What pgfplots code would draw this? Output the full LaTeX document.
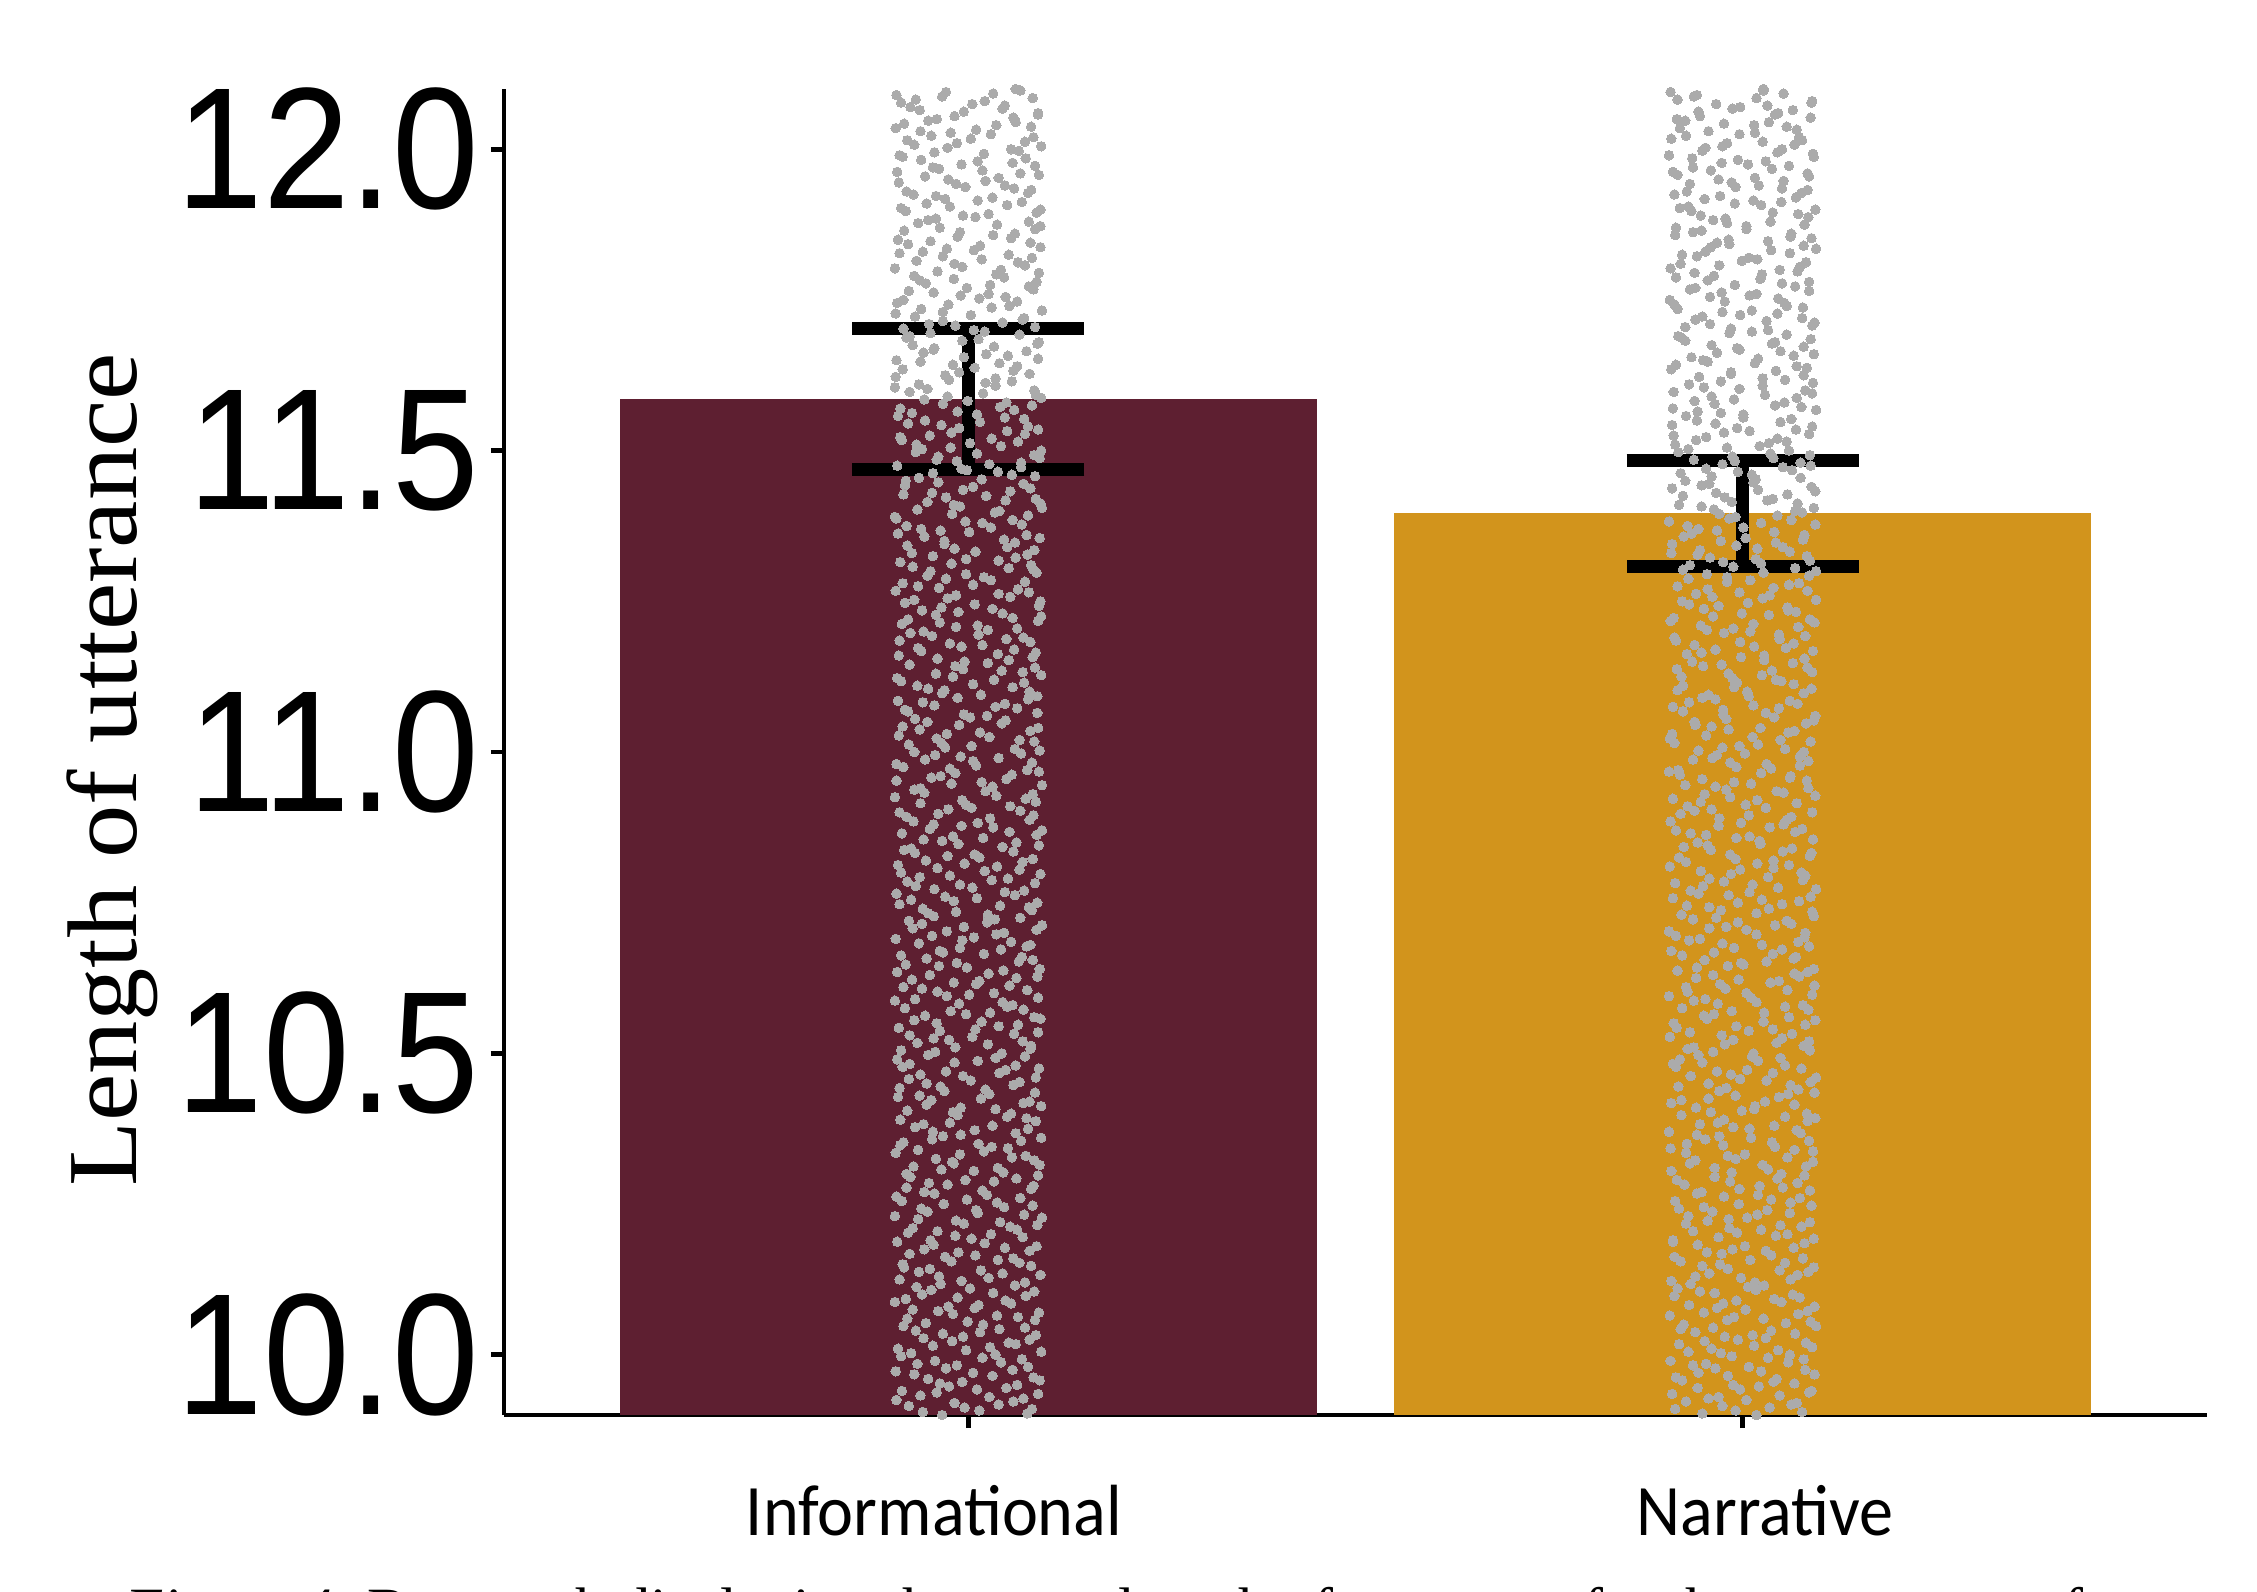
\documentclass[border=0pt]{standalone}
\usepackage{pgfplots}
\usepackage{pgfplotstable}
\pgfplotsset{compat=1.18}
\usepackage{fontspec}
\setmainfont{Liberation Serif}
\newfontfamily\tickfont{Liberation Sans}
\newfontfamily\calfont{Carlito}
\definecolor{infocol}{RGB}{94,31,49}
\definecolor{narrcol}{RGB}{210,148,28}
\definecolor{dotgray}{RGB}{171,171,171}

\pgfplotstableread{
v a b c d
8 -71 23 88 -12
9 45 -88 3 67
10 -34 76 -59 14
11 82 -5 -77 39
12 -18 58 -93 71
13 27 -62 90 -41
14 -86 11 49 -25
15 63 -37 -8 92
16 -52 84 31 -70
17 6 -94 57 -29
18 77 -15 -66 42
19 -43 69 18 -87
20 35 -74 94 -3
21 -91 28 -46 61
22 52 -21 79 -58
23 -7 87 -33 15
24 -68 40 73 -84
25 19 -55 -1 86
26 -79 64 37 -20
27 91 -39 -72 8
28 -26 13 55 -95
29 48 -81 -14 74
30 -60 32 85 -48
31 2 -67 60 -36
32 73 -9 -89 26
33 -38 93 44 -64
34 16 -50 -83 81
35 -85 66 -22 38
36 58 -30 9 -76
37 -13 79 -57 47
38 88 -45 21 -92
39 -49 4 70 -17
40 29 -78 -40 63
41 -72 54 89 -6
42 41 -16 -65 95
43 -95 72 12 -53
44 10 -61 46 83
45 -32 37 -86 -2
46 67 -93 24 -44
47 -57 18 81 -80
48 84 -27 -51 33
49 -4 62 -75 90
50 -80 45 7 -35
51 38 -71 92 -19
52 -21 85 -42 56
53 74 -11 -94 20
54 -65 51 30 -88
55 13 -84 68 -47
56 94 -33 -10 61
57 -46 8 77 -69
58 31 -58 -24 87
59 -88 75 50 -14
60 55 -20 -79 35
61 -10 94 -54 71
62 79 -48 16 -91
63 -63 27 86 -31
64 22 -89 -36 58
65 -54 66 3 -77
66 87 -7 -62 40
67 -29 48 91 -85
68 61 -76 -18 12
69 -92 35 73 -52
70 43 -43 -87 80
71 -17 81 25 -66
72 70 -25 -45 5
73 -76 59 90 -37
74 9 -90 39 64
75 -41 17 -70 93
76 85 -56 -3 28
77 -23 71 -82 50
78 57 -12 44 -95
79 -69 90 -28 1
80 33 -40 76 -60
81 -84 53 10 -19
82 14 -73 62 89
83 -50 26 -92 45
84 92 -2 -38 -81
85 -15 65 83 -54
86 69 -87 20 -33
87 -37 42 -11 75
88 80 -64 55 -8
89 -94 7 -47 36
90 46 -28 88 -72
91 -6 95 -60 24
92 -77 34 67 -45
93 25 -52 -16 82
94 -59 78 41 -89
95 89 -19 -74 11
96 -30 60 -93 47
97 72 -44 5 -68
98 -11 86 -79 30
99 51 -63 -24 93
100 -87 21 66 -40
101 37 -91 -5 70
102 -55 83 14 -27
103 8 -69 58 -83
104 -74 44 91 -13
105 62 -34 -58 19
106 -20 88 -86 53
107 95 -50 32 -9
108 -45 12 -71 79
109 28 -80 84 -39
110 -89 67 -26 4
111 54 -3 -62 87
112 -8 74 -95 36
113 83 -57 22 -70
114 -62 31 95 -22
115 17 -93 49 -48
116 -36 56 -17 91
117 76 -24 -84 10
118 -93 82 6 -56
119 39 -10 -43 68
120 -70 92 60 -30
121 4 -77 -35 85
122 66 -41 27 -90
123 -28 15 80 -63
124 90 -85 -12 43
125 -53 48 -69 2
126 24 -6 89 -78
127 -82 63 35 -44
128 47 -59 -91 77
129 -14 89 16 -34
130 79 -31 -52 57
131 -66 6 72 -87
132 33 -92 -20 94
133 -42 70 43 -7
134 86 -17 -76 25
135 -5 52 -40 83
136 -90 38 87 -61
137 59 -65 -9 18
138 -24 80 -89 49
139 71 -47 13 -75
140 -58 25 63 -16
141 12 -86 -37 90
142 -78 57 94 -42
143 44 -13 -60 31
144 -35 91 8 -82
145 93 -70 -27 54
146 -16 39 78 -94
147 64 -38 -65 6
148 -85 73 29 -29
149 20 -53 -3 88
150 -49 84 52 -72
151 81 -22 -88 39
152 -3 61 -46 76
153 -73 9 85 -18
154 50 -79 -31 60
155 -31 46 92 -57
156 75 -91 1 -36
157 -61 29 -80 69
158 18 -4 57 -93
159 -95 77 -21 34
160 40 -66 95 -11
161 -19 93 -53 48
162 87 -29 23 -84
163 -47 54 -7 80
164 6 -82 71 -39
165 -81 17 -64 86
166 56 -46 38 -2
167 -9 68 -92 27
168 68 -15 -41 92
169 -39 85 11 -68
170 94 -60 -23 42
171 -67 2 64 -86
172 30 -88 -50 73
173 -22 50 90 -12
174 77 -35 -78 15
175 -56 72 47 -91
176 11 -73 -14 59
177 -88 41 82 -33
178 49 -1 -57 94
179 -27 87 19 -76
180 85 -53 -95 35
181 -64 22 56 -25
182 35 -94 -30 79
183 -12 58 -85 8
184 63 -20 40 -62
185 -93 90 -6 51
186 23 -58 75 -45
187 -44 33 -72 89
188 91 -8 13 -80
189 -76 66 -49 21
190 7 -84 86 -17
191 -51 44 -33 70
192 72 -69 3 -94
193 -33 95 -61 30
194 53 -26 -92 63
195 -84 14 48 -10
196 26 -45 -77 84
197 -2 78 28 -55
198 88 -63 -19 46
199 -70 36 91 -40
200 42 -95 -8 73
201 -18 64 -67 17
202 82 -33 52 -89
203 -59 7 -28 93
204 15 -78 80 -49
205 -91 55 -14 32
206 60 -11 -83 86
207 -37 93 37 -65
208 78 -52 -42 9
209 -7 26 88 -81
210 93 -87 -24 50
211 -54 69 12 -30
212 31 -42 -71 77
213 -80 81 59 -4
214 47 -16 -90 22
215 -26 39 -56 91
216 67 -92 18 -38
217 -46 86 -9 57
218 12 -61 74 -85
219 -89 20 -44 65
220 55 -27 94 -70
221 -15 73 -79 3
222 84 -48 29 -23
223 -62 10 -94 81
224 36 -83 61 -52
225 -41 58 -18 90
226 90 -6 -63 44
227 -75 47 5 -87
228 21 -68 83 -34
229 -93 32 -29 67
230 61 -39 -86 13
231 -28 91 46 -60
232 74 -55 -12 38
}\infodata

\pgfplotstableread{
v a b c d
8 53 -17 -84 29
9 -66 91 12 -40
10 18 -52 77 -9
11 -87 35 -26 63
12 70 -73 5 -44
13 -31 48 -91 86
14 89 -3 -58 21
15 -12 67 40 -78
16 44 -86 -19 93
17 -57 24 81 -35
18 8 -64 -47 59
19 -93 79 33 -14
20 61 -28 -70 46
21 -40 90 15 -82
22 82 -49 -6 30
23 -23 13 68 -61
24 37 -80 -38 95
25 -76 56 88 -20
26 27 -11 -94 72
27 -50 84 4 -33
28 93 -69 -25 50
29 -8 41 74 -88
30 65 -36 -55 17
31 -84 7 28 -67
32 16 -92 62 -2
33 -61 71 -43 85
34 48 -19 92 -52
35 -29 55 -80 10
36 78 -88 37 -27
37 -46 30 -13 66
38 3 -58 80 -90
39 -90 92 -31 43
40 58 -7 -64 24
41 -17 76 49 -73
42 87 -45 -18 6
43 -70 19 61 -39
44 32 -82 -50 89
45 -5 62 -87 37
46 74 -24 20 -59
47 -53 87 -4 52
48 22 -75 71 -16
49 -85 45 -36 80
50 50 -14 -92 33
51 -36 82 26 -68
52 91 -61 -9 58
53 -19 3 -73 91
54 67 -93 42 -25
55 -72 38 86 -48
56 11 -30 -59 75
57 -95 70 9 -12
58 41 -55 -32 84
59 -24 94 55 -79
60 83 -41 -1 15
61 -60 16 67 -92
62 29 -79 -44 47
63 -9 59 93 -30
64 72 -21 -83 62
65 -44 88 31 -3
66 95 -67 -15 39
67 -33 6 76 -86
68 55 -90 -52 20
69 -81 49 12 -57
70 14 -38 87 -71
71 -63 79 -23 44
72 86 -12 51 -94
73 -27 64 -68 8
74 39 -85 -8 81
75 -89 27 94 -46
76 60 -50 -37 28
77 -14 85 -78 55
78 78 -32 18 -63
79 -48 11 -95 90
80 5 -71 58 -22
81 -73 93 -29 36
82 47 -5 -60 73
83 -38 67 84 -84
84 92 -59 -19 1
85 -2 31 -49 66
86 69 -78 39 -37
87 -92 51 -11 86
88 25 -26 72 -69
89 -55 80 -86 18
90 81 -95 5 -43
91 -21 42 63 -6
92 57 -64 -34 92
93 -79 18 90 -28
94 34 -43 -72 51
95 -6 73 25 -90
96 88 -18 -57 9
97 -67 95 46 -51
98 13 -87 -24 78
99 -43 33 81 -15
100 76 -54 -3 40
101 -94 60 19 -73
102 40 -9 -82 87
103 -16 89 52 -41
104 64 -76 -45 23
105 -58 22 91 -8
106 9 -47 -67 68
107 -86 77 35 -31
108 53 -2 -93 57
109 -30 63 8 -80
110 90 -62 -40 30
111 -71 4 70 -54
112 19 -90 -16 94
113 -49 53 44 -21
114 85 -35 -74 11
115 -11 83 -52 61
116 62 -81 24 -95
117 -83 37 -8 74
118 31 -16 85 -64
119 -39 74 -33 3
120 79 -57 55 -26
121 -4 20 -88 88
122 49 -94 13 -47
123 -91 59 67 -18
124 23 -40 -61 82
125 -62 92 -21 41
126 94 -25 30 -77
127 -25 47 -90 14
128 71 -69 61 -35
129 -52 8 -44 79
130 6 -84 89 -11
131 -77 66 -7 50
132 43 -13 -79 25
133 -18 90 38 -85
134 84 -51 -27 65
135 -65 28 80 -2
136 28 -72 -53 91
137 -35 56 15 -62
138 66 -3 -86 48
139 -88 81 47 -24
140 10 -46 -12 72
141 -54 14 93 -93
142 87 -89 -38 34
143 -1 69 59 -50
144 58 -31 -69 7
145 -78 95 26 -39
146 35 -60 -4 84
147 -45 40 -84 60
148 73 -20 10 -70
149 -20 86 -46 27
150 95 -77 68 -12
151 -68 24 -25 87
152 17 -42 83 -58
153 -92 61 -55 19
154 52 -8 -91 43
155 -28 78 4 -76
156 80 -66 41 -33
157 -57 1 -71 94
158 24 -95 63 -17
159 -9 45 -30 77
160 68 -37 92 -53
161 -82 71 -14 32
162 39 -23 -77 58
163 -34 94 20 -91
164 89 -53 -43 14
165 -74 17 75 -40
166 12 -80 -6 64
167 -47 52 88 -26
168 75 -10 -63 40
169 -13 87 36 -83
170 60 -70 -20 22
171 -87 34 57 -60
172 45 -47 -89 86
173 -24 9 69 -7
174 90 -91 -35 49
175 -59 63 1 -73
176 1 -28 -58 95
177 -90 76 42 -36
178 54 -62 -11 70
179 -40 29 90 -89
180 81 -4 -50 26
181 -69 91 -28 55
182 26 -56 79 -15
183 -15 43 -92 83
184 70 -86 16 -45
185 -51 20 -66 66
186 92 -33 49 -4
187 -7 79 -40 38
188 42 -74 88 -79
189 -83 57 -17 12
190 33 -15 -74 90
191 -42 93 31 -61
192 77 -52 -3 45
193 -26 12 -84 78
194 57 -88 54 -23
195 -94 46 -42 9
196 18 -27 86 -68
197 -61 68 -10 51
198 86 -45 23 -86
199 -37 25 -62 71
200 48 -93 74 -30
201 -80 82 -1 19
202 8 -59 -78 61
203 -48 37 95 -41
204 79 -17 -33 33
205 -18 89 62 -87
206 63 -64 -53 5
207 -86 5 80 -20
208 36 -38 -22 85
209 -54 72 39 -66
210 94 -81 -70 24
211 -10 50 14 -49
212 69 -29 -88 76
213 -72 84 51 -9
214 21 -68 -14 53
215 -31 16 86 -84
216 84 -90 -41 38
217 -64 60 7 -27
218 30 -6 -65 92
219 -95 91 45 -52
220 51 -48 -26 67
221 -20 26 77 -92
222 73 -73 -4 16
223 -44 70 -81 57
224 15 -24 34 -74
225 -85 88 -55 42
226 46 -57 65 -13
227 -3 32 -34 89
228 90 -84 18 -63
229 -59 53 -93 27
230 27 -12 83 -40
231 -77 77 -19 61
232 64 -36 -61 4
}\narrdata

\pgfplotsset{dots/.style={only marks, mark=*, mark size=0.95pt, color=dotgray,
  mark options={solid, fill=dotgray, draw=dotgray, line width=0pt}}}

\begin{document}
\begin{tikzpicture}
\useasboundingbox (-100.8pt,-35.2pt) rectangle (350.6pt,283pt);
\begin{axis}[
  at={(0,0)}, anchor=south west,
  scale only axis, width=340.6pt, height=265.2pt,
  xmin=0.4, xmax=2.6, ymin=9.9, ymax=12.1,
  axis lines*=left,
  axis line style={black, line width=0.9pt},
  xtick={1,2}, xticklabels={\mbox{},\mbox{}},
  ytick={10,10.5,11,11.5,12},
  tick align=outside,
  major tick length=2.6pt,
  every tick/.style={black, line width=0.9pt},
  yticklabel style={anchor=east, inner sep=0pt, xshift=-2.1pt,
    font=\fontsize{34.6}{40}\tickfont},
  yticklabel={\scalebox{0.9}[1]{\pgfmathprintnumber[fixed,fixed zerofill,precision=1,assume math mode=true]{\tick}}},
  clip=true,
]
% bars
\addplot[ybar, bar width=0.9, bar shift=0pt, fill=infocol, draw=none] coordinates {(1,11.585)};
\addplot[ybar, bar width=0.9, bar shift=0pt, fill=narrcol, draw=none] coordinates {(2,11.396)};
% jittered observations
\addplot[dots] table[x expr=1+\thisrow{a}/1000, y expr=9.8+\thisrow{v}/100] {\infodata};
\addplot[dots] table[x expr=1+\thisrow{b}/1000, y expr=9.8025+\thisrow{v}/100] {\infodata};
\addplot[dots] table[x expr=1+\thisrow{c}/1000, y expr=9.805+\thisrow{v}/100] {\infodata};
\addplot[dots] table[x expr=1+\thisrow{d}/1000, y expr=9.8075+\thisrow{v}/100] {\infodata};
\addplot[dots] table[x expr=2+\thisrow{a}/1000, y expr=9.8+\thisrow{v}/100] {\narrdata};
\addplot[dots] table[x expr=2+\thisrow{b}/1000, y expr=9.8025+\thisrow{v}/100] {\narrdata};
\addplot[dots] table[x expr=2+\thisrow{c}/1000, y expr=9.805+\thisrow{v}/100] {\narrdata};
\addplot[dots] table[x expr=2+\thisrow{d}/1000, y expr=9.8075+\thisrow{v}/100] {\narrdata};
% error bars
\addplot[draw=none, mark=none, line width=2.6pt,
  error bars/.cd, y dir=both, y explicit,
  error bar style={draw=black, line width=2.6pt},
  error mark options={draw=black, rotate=90, mark size=23.2pt, line width=2.6pt}]
  coordinates {(1,11.585) += (0,0.118) -= (0,0.117)};
\addplot[draw=none, mark=none, line width=2.6pt,
  error bars/.cd, y dir=both, y explicit,
  error bar style={draw=black, line width=2.6pt},
  error mark options={draw=black, rotate=90, mark size=23.2pt, line width=2.6pt}]
  coordinates {(2,11.396) += (0,0.088) -= (0,0.089)};
\end{axis}
% y label
\node[rotate=90, anchor=base, inner sep=0pt, font=\fontsize{21.3}{25}\selectfont]
  at (-73.4pt,129pt) {\scalebox{1}[0.93]{Length of utterance}};
% x category labels
\node[anchor=base, inner sep=0pt, font=\fontsize{14.5}{17}\calfont] at (86pt,-24pt) {\scalebox{0.94}[1]{Informational}};
\node[anchor=base, inner sep=0pt, font=\fontsize{14.5}{17}\calfont] at (252.2pt,-24pt) {\scalebox{0.94}[1]{Narrative}};
% caption (its lower part lies below the page edge, as in the reference)
\node[anchor=base west, inner sep=0pt, font=\fontsize{12}{14}\selectfont] at (-75.8pt,-42.8pt)
  {\textit{Figure 4.} Bar graph displaying the mean length of utterance for the two genres of};
\end{tikzpicture}
\end{document}
